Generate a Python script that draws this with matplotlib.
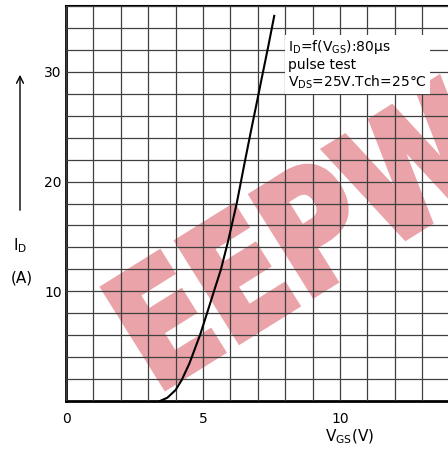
import matplotlib
matplotlib.use("Agg")
import matplotlib.pyplot as plt
import numpy as np
from matplotlib.textpath import TextPath
from matplotlib.patches import PathPatch
from matplotlib.font_manager import FontProperties
import matplotlib.transforms as mtransforms

# values (VGS in V, ID in A)
vgs = [3.43, 3.7, 4.0, 4.22, 4.5, 4.89, 5.16, 5.4, 5.65, 5.9, 6.23, 6.51, 6.75, 6.98, 7.15, 7.38, 7.6]
i_d = [0.0, 0.3, 1.0, 1.9, 3.4, 6.0, 8.1, 10.0, 11.95, 14.4, 18.0, 21.6, 24.6, 27.4, 29.5, 32.3, 35.1]

x_grid = list(range(0, 16))
y_grid = list(range(0, 37, 2))
x_labels = {0: "0", 5: "5", 10: "10"}
y_labels = {10: "10", 20: "20", 30: "30"}

W, H = 448, 453
fig = plt.figure(figsize=(W / 100, H / 100), dpi=100)
plt.rcParams['font.family'] = 'DejaVu Sans'

# axes: x=0 at px 66, 27.4 px per volt; y=0 at px 401, 10.97 px per amp
ax = fig.add_axes([66 / W, (H - 401) / H, 15 * 27.4 / W, 395 / H])
ax.set_xlim(0, 15)
ax.set_ylim(0, 36)

ax.set_xticks(x_grid)
ax.set_xticklabels([x_labels.get(v, "") for v in x_grid])
ax.set_yticks(y_grid)
ax.set_yticklabels([y_labels.get(v, "") for v in y_grid])
ax.tick_params(axis='x', length=0, pad=8, labelsize=10)
ax.tick_params(axis='y', length=0, pad=3, labelsize=10)
ax.grid(True, color='0.25', lw=0.9)
ax.set_axisbelow(False)
for s in ['left', 'bottom']:
    ax.spines[s].set_linewidth(2)
ax.spines['top'].set_linewidth(1.5)
ax.spines['right'].set_visible(False)

ax.plot(vgs, i_d, color='black', lw=1.5, zorder=3)

# watermark, under the grid
tp = TextPath((0, 0), "EEPW", size=1, prop=FontProperties(family='DejaVu Sans', weight='bold'))
tr = mtransforms.Affine2D().scale(128, 160).rotate_deg(32).translate(156, H - 393)
ax.add_patch(PathPatch(tr.transform_path(tp), transform=mtransforms.IdentityTransform(),
                       facecolor='#eaa3a9', edgecolor='#eaa3a9', lw=5, zorder=1))

# condition text with white backing
fig.text(288 / W, 1 - 38 / H,
         'I$_\\mathregular{D}$=f(V$_\\mathregular{GS}$):80\u03bcs\npulse test\nV$_\\mathregular{DS}$=25V.Tch=25\u00b0C',
         fontsize=10, va='top', ha='left', linespacing=1.15,
         bbox=dict(facecolor='white', edgecolor='none', pad=2))

# axis labels
fig.text(20 / W, 1 - 246 / H, 'I$_\\mathregular{D}$', fontsize=11, ha='center', va='center')
fig.text(22 / W, 1 - 278 / H, '(A)', fontsize=11, ha='center', va='center')
fig.text(350 / W, 1 - 437 / H, 'V$_\\mathregular{GS}$(V)', fontsize=11, ha='center', va='center')
fig.patches.append(matplotlib.patches.FancyArrowPatch(
    (20 / W, 1 - 213 / H), (20 / W, 1 - 72 / H), transform=fig.transFigure,
    arrowstyle='->,head_length=5,head_width=2.5', lw=1, color='black'))

fig.savefig('out.png', dpi=100)
